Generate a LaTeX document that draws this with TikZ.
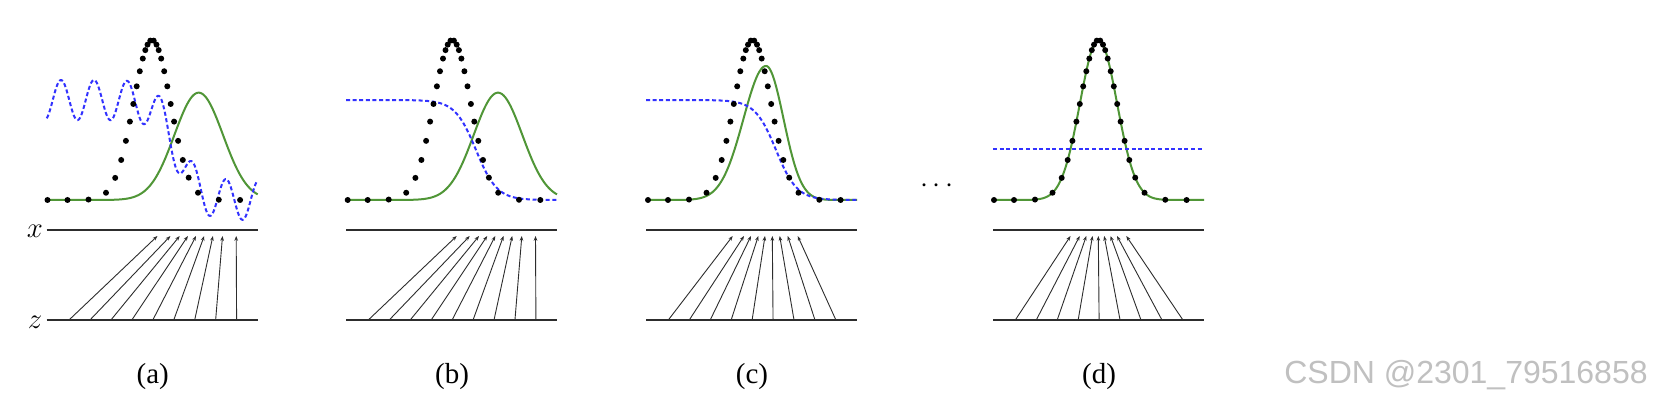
\documentclass[tikz,border=0pt]{standalone}
\usepackage{fontspec}
\setmainfont{Liberation Serif}
\newfontfamily\wmfont{Liberation Sans}
\usetikzlibrary{arrows.meta}
\definecolor{gcurve}{RGB}{80,150,55}
\definecolor{bcurve}{RGB}{50,50,255}
\definecolor{axisc}{RGB}{45,45,45}
\definecolor{wmc}{RGB}{192,192,192}
\tikzset{
  declare function={
    sig(\t)=1/(1+exp(-max(-8,min(8,\t))));
    gss(\t)=exp(-0.5*min(\t*\t,40));
  },
  datadot/.style={black},
  gline/.style={gcurve, line width=1pt},
  dline/.style={bcurve, line width=1pt, dash pattern=on 2pt off 1.3pt},
  axisline/.style={axisc, line width=1pt},
  genarrow/.style={axisc, line width=0.45pt, -{Stealth[length=2.4pt,width=1.8pt]}},
  lbl/.style={inner sep=0pt, font=\fontsize{14.5}{17}\selectfont},
  mlbl/.style={inner sep=0pt, font=\fontsize{15.5}{18}\selectfont},
  wm/.style={inner sep=0pt, text=wmc, font=\wmfont\fontsize{16}{19}\selectfont},
}
\begin{document}
\begin{tikzpicture}[x=0.5pt,y=-0.5pt]
\useasboundingbox (0,0) rectangle (1658,406);
\fill[white] (0,0) rectangle (1658,406);

% panels: left edge / name / arrow top positions (relative)
\foreach \L/\nm/\tops in {
  46.7/a/{110.7,123.7,133,141.2,149.3,157.5,166.2,175.8,189.5},
  346/b/{110.7,123.7,133,141.2,149.3,157.5,166.2,175.8,189.5},
  646/c/{86.7,98,105,112.3,119,126.3,133.7,141.7,151.7},
  993/d/{77.5,86.7,93.3,99.5,105.3,111.2,117.5,124,133.3}}{
  \pgfmathsetmacro\R{\L+211}
  \coordinate (xl\nm) at (\L,230);
  \coordinate (xr\nm) at (\R,230);
  \coordinate (zl\nm) at (\L,320);
  \coordinate (zr\nm) at (\R,320);
  \draw[axisline] (xl\nm) -- (xr\nm);
  \draw[axisline] (zl\nm) -- (zr\nm);
  \foreach \t [count=\i from 0] in \tops {
    \coordinate (zp\nm\i) at ({\L+22.3+20.95*\i},320);
    \coordinate (xp\nm\i) at ({\L+\t},236);
    \draw[genarrow] (zp\nm\i) -- (xp\nm\i);
  }
  \node[lbl] (cap\nm) at ({\L+106},377) {(\nm)};
}

% green curves (generator distribution)
\draw[gline] plot[domain=46.7:257.7,samples=250] (\x,{200-107.3*gss((\x-198.7)/24.3)});
\draw[gline] plot[domain=346:557,samples=250] (\x,{200-107.3*gss((\x-498)/24.3)});
\draw[gline] plot[domain=646:766,samples=150] (\x,{200-134*gss((\x-766)/22.5)})
   -- plot[domain=766:857,samples=150] (\x,{200-134*gss((\x-766)/17.5)});
\draw[gline] plot[domain=993:1204,samples=250] (\x,{200-160*gss((\x-1098.5)/18.5)});

% blue dashed curves (discriminator)
\draw[dline] plot[domain=46.7:257.7,samples=500] (\x,{100+100*sig((\x-176.7)/10.5)-20*cos((\x-61)/33*360)});
\draw[dline] plot[domain=346:557,samples=250] (\x,{100+100*sig((\x-476)/10.5)});
\draw[dline] plot[domain=646:857,samples=250] (\x,{100+100*sig((\x-776)/10.5)});
\coordinate (dl) at (993,149.5);
\coordinate (dr) at (1204,149.5);
\draw[dline] (dl) -- (dr);

% data distribution (black dots)
\foreach \cx in {152,452.2,752.5,1098.5}{
  \foreach \d in {-104.5,-84.5,-63.5,-46,-36.8,-30.8,-26.1,-22.1,-18.7,-15.3,-12.2,-9.2,-6.7,-4.5,-1.7,
                  1.7,4.5,6.7,9.2,12.2,15.3,18.7,22.1,26.1,30.8,36.7,46,66.8,88.1}{
    \fill[datadot] ({\cx+\d},{200-160*gss(\d/18.5)}) circle[radius=1.5pt];
  }
}

% labels
\node[mlbl] (xlab) at (35,231) {$x$};
\node[mlbl] (zlab) at (35,322) {$z$};
\node[lbl, anchor=base] (ell) at (937,192.5) {$\cdots$};
\node[wm] (wmark) at (1466,375) {CSDN @2301\_79516858};
\end{tikzpicture}
\end{document}
